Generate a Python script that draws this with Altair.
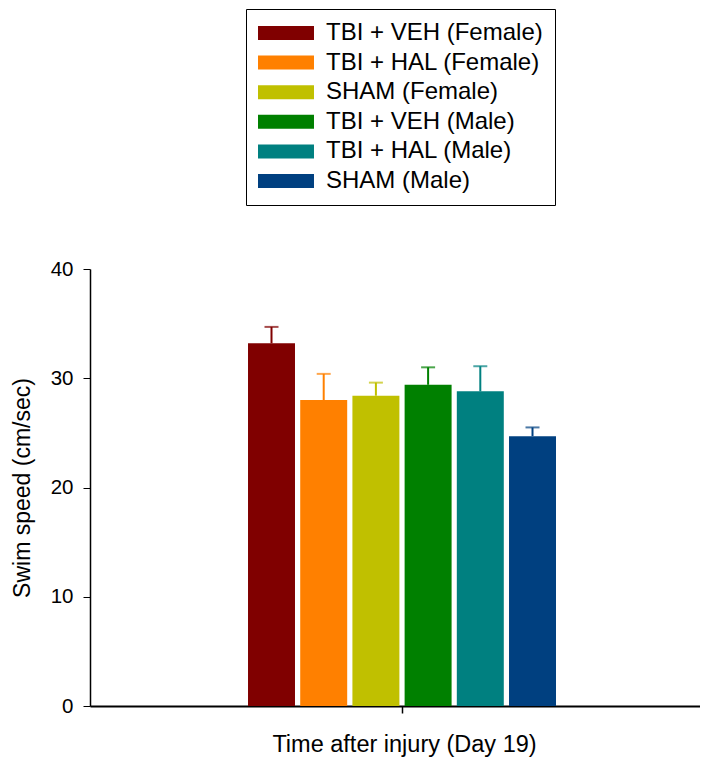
import altair as alt
import pandas as pd

groups = ["TBI + VEH (Female)", "TBI + HAL (Female)", "SHAM (Female)",
          "TBI + VEH (Male)", "TBI + HAL (Male)", "SHAM (Male)"]
means = [33.2, 28.0, 28.4, 29.4, 28.8, 24.7]
errors = [1.5, 2.4, 1.2, 1.6, 2.3, 0.8]
colors = ["#800000", "#FF8000", "#C0C000", "#008000", "#008080", "#004080"]
period = ["Day 19"] * 6
y_ticks = [0, 10, 20, 30, 40]

FONT = "Liberation Sans"

df = pd.DataFrame({"group": groups, "mean": means, "err": errors, "period": period})

base = alt.Chart(df).transform_calculate(upper="datum.mean + datum.err")

x_enc = alt.X(
    "period:N",
    title="Time after injury (Day 19)",
    scale=alt.Scale(paddingInner=0, paddingOuter=0.4738, align=0.5236),
    axis=alt.Axis(labels=False, tickSize=7, tickColor="black", tickWidth=1.5,
                  domainColor="black", domainWidth=2,
                  titleFont=FONT, titleFontSize=23.5, titleFontWeight="normal",
                  titleColor="black", titleX=314, titleY=26,
                  titleBaseline="top", titleAlign="center"),
)
xoff = alt.XOffset("group:N", sort=groups,
                   scale=alt.Scale(paddingInner=0.1, paddingOuter=0.05))
y_scale = alt.Scale(domain=[0, 40], nice=False)
y_enc = alt.Y(
    "mean:Q",
    title="Swim speed (cm/sec)",
    scale=y_scale,
    axis=alt.Axis(values=y_ticks, tickSize=7, grid=False, domainColor="black",
                  domainWidth=1.5, tickColor="black", tickWidth=1,
                  labelFont=FONT, labelFontSize=20.5, labelColor="black",
                  labelPadding=10, titleFont=FONT, titleFontSize=23,
                  titleFontWeight="normal", titleColor="black", titlePadding=16),
)

color_scale = alt.Scale(domain=groups, range=colors)

bars = base.mark_bar().encode(
    x=x_enc,
    xOffset=xoff,
    y=y_enc,
    color=alt.Color(
        "group:N", sort=groups, scale=color_scale,
        legend=alt.Legend(
            title=None, orient="none", legendX=156, legendY=-260,
            direction="vertical",
            symbolType="M-2.333,-0.583H2.333V0.583H-2.333Z", symbolSize=576,
            symbolStrokeWidth=0, symbolOpacity=1, symbolOffset=16,
            labelFont=FONT, labelFontSize=24, labelColor="black",
            labelOffset=28, labelLimit=400, padding=12, rowPadding=5.6,
            strokeColor="black", fillColor="white",
        ),
    ),
)

rules = base.mark_rule(strokeWidth=2).encode(
    x=x_enc,
    xOffset=xoff,
    y=alt.Y("mean:Q", scale=y_scale),
    y2="upper:Q",
    color=alt.Color("group:N", sort=groups, scale=color_scale, legend=None),
)

caps = base.mark_tick(thickness=2, size=14).encode(
    x=x_enc,
    xOffset=xoff,
    y=alt.Y("upper:Q", scale=y_scale),
    color=alt.Color("group:N", sort=groups, scale=color_scale, legend=None),
)

chart = (
    alt.layer(bars, rules, caps)
    .properties(
        width=610, height=437,
        autosize=alt.AutoSizeParams(type="none"),
        padding={"left": 82, "top": 261, "right": 0, "bottom": 51},
        background="white",
    )
    .configure_view(stroke=None)
)

chart.save("out.html", embed_options={"renderer": "svg", "actions": False})
